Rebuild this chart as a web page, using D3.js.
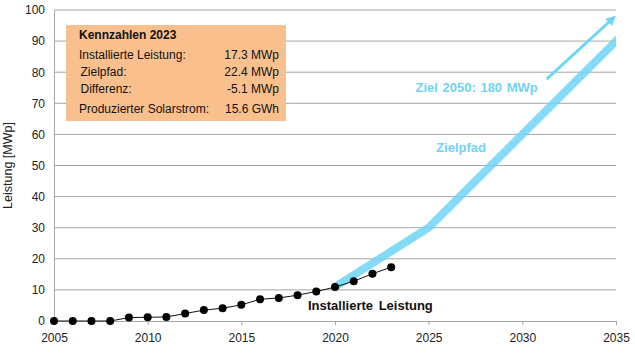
<!DOCTYPE html>
<html>
<head>
<meta charset="utf-8">
<script src="https://cdn.jsdelivr.net/npm/d3@7"></script>
<style>
  body { margin: 0; background: #fff; }
  svg { font-family: "Liberation Sans", Arial, sans-serif; }
</style>
</head>
<body>
<svg id="chart" width="635" height="353"></svg>
<script>
// installed capacity per year (MWp)
const years = [2005, 2006, 2007, 2008, 2009, 2010, 2011, 2012, 2013, 2014,
  2015, 2016, 2017, 2018, 2019, 2020, 2021, 2022, 2023]
const installed = [0, 0, 0, 0, 1.1, 1.2, 1.3, 2.4, 3.5, 4.1,
  5.2, 7.0, 7.4, 8.3, 9.5, 10.9, 12.8, 15.2, 17.3]

// target path
const targetYears = [2020, 2025, 2035, 2036]
const targetValues = [11, 30, 90, 96]

// arrow towards 2050 target
const arrowFrom = [2031.3, 77.8]
const arrowTo = [2035, 98.2]

const xTicks = [2005, 2010, 2015, 2020, 2025, 2030, 2035]
const yTicks = [0, 10, 20, 30, 40, 50, 60, 70, 80, 90, 100]

const infoTitle = 'Kennzahlen 2023'
const infoLabels = ['Installierte Leistung:', 'Zielpfad:', 'Differenz:', 'Produzierter Solarstrom:']
const infoValues = ['17.3 MWp', '22.4 MWp', '-5.1 MWp', '15.6 GWh']

const margin = {top: 10, right: 19, bottom: 32, left: 54}
const width = 635 - margin.left - margin.right
const height = 353 - margin.top - margin.bottom
const cyan = '#6fd5f7'

const svg = d3.select('#chart')
const g = svg.append('g')
  .attr('transform', 'translate(' + margin.left + ',' + margin.top + ')')

const x = d3.scaleLinear().domain([2005, 2035]).range([0, width])
const y = d3.scaleLinear().domain([0, 100]).range([height, 0])

g.append('defs').append('clipPath').attr('id', 'plot')
  .append('rect').attr('x', 0).attr('y', -10).attr('width', width).attr('height', height + 10)

// gridlines
g.selectAll('.grid').data(yTicks.slice(1)).join('line')
  .attr('x1', 0).attr('x2', width)
  .attr('y1', d => y(d)).attr('y2', d => y(d))
  .attr('stroke', '#a6a6a6').attr('stroke-width', 1)

// axes
const yAxis = g.append('g').call(d3.axisLeft(y).tickValues(yTicks).tickSize(0).tickPadding(9))
yAxis.select('.domain').attr('stroke', '#a6a6a6')
yAxis.selectAll('text').attr('font-size', 12).attr('fill', '#222')

const xAxis = g.append('g').attr('transform', 'translate(0,' + height + ')')
  .call(d3.axisBottom(x).tickValues(xTicks).tickFormat(d3.format('d')).tickSize(4).tickPadding(8))
xAxis.select('.domain').attr('stroke', '#a6a6a6')
xAxis.selectAll('line').attr('stroke', '#a6a6a6')
xAxis.selectAll('text').attr('font-size', 12).attr('fill', '#222')

g.append('text')
  .attr('transform', 'translate(' + (12 - margin.left) + ',' + y(50) + ') rotate(-90)')
  .attr('text-anchor', 'middle')
  .attr('font-size', 12.5).attr('fill', '#222')
  .text('Leistung [MWp]')

// target band
const line = d3.line().x(d => x(d[0])).y(d => y(d[1]))
g.append('path')
  .datum(d3.zip(targetYears, targetValues))
  .attr('clip-path', 'url(#plot)')
  .attr('d', line)
  .attr('fill', 'none')
  .attr('stroke', cyan).attr('stroke-opacity', 0.85)
  .attr('stroke-width', 8)

// arrow
const ax1 = x(arrowFrom[0]), ay1 = y(arrowFrom[1])
const ax2 = x(arrowTo[0]), ay2 = y(arrowTo[1])
const ang = Math.atan2(ay2 - ay1, ax2 - ax1)
const headLen = 10, headW = 5
g.append('line')
  .attr('x1', ax1).attr('y1', ay1)
  .attr('x2', ax2 - Math.cos(ang) * headLen * 0.8).attr('y2', ay2 - Math.sin(ang) * headLen * 0.8)
  .attr('stroke', cyan).attr('stroke-width', 3)
const bx = ax2 - Math.cos(ang) * headLen, by = ay2 - Math.sin(ang) * headLen
g.append('path')
  .attr('d', 'M' + ax2 + ',' + ay2 +
    'L' + (bx + Math.sin(ang) * headW) + ',' + (by - Math.cos(ang) * headW) +
    'L' + (bx - Math.sin(ang) * headW) + ',' + (by + Math.cos(ang) * headW) + 'Z')
  .attr('fill', cyan)

// installed line + markers
const installedData = d3.zip(years, installed)
g.append('path')
  .datum(installedData)
  .attr('d', line)
  .attr('fill', 'none')
  .attr('stroke', '#111').attr('stroke-width', 1)
g.selectAll('.dot').data(installedData).join('circle')
  .attr('cx', d => x(d[0])).attr('cy', d => y(d[1]))
  .attr('r', 4).attr('fill', '#000')

// labels
g.append('text')
  .attr('x', x(2020.0) - 27).attr('y', y(3.5))
  .attr('font-size', 13).attr('font-weight', 'bold').attr('fill', '#111')
  .attr('word-spacing', 2)
  .text('Installierte Leistung')
g.append('text')
  .attr('x', x(2025.4)).attr('y', y(54.2))
  .attr('font-size', 13).attr('font-weight', 'bold').attr('fill', '#6fd3f4')
  .text('Zielpfad')
g.append('text')
  .attr('x', x(2024.3)).attr('y', y(73.7))
  .attr('font-size', 13).attr('font-weight', 'bold').attr('fill', '#6fd3f4')
  .attr('word-spacing', 1)
  .text('Ziel 2050: 180 MWp')

// info box
const box = svg.append('g').attr('transform', 'translate(66,25)')
box.append('rect')
  .attr('width', 220).attr('height', 96)
  .attr('fill', '#f9c08e')
box.append('text')
  .attr('x', 13).attr('y', 13.5)
  .attr('font-size', 12).attr('font-weight', 'bold').attr('fill', '#111')
  .text(infoTitle)
const rowY = [33.5, 51, 67.5, 88]
const rowX = [13, 14.5, 14.5, 13]
box.selectAll('.lab').data(infoLabels).join('text')
  .attr('x', (d, i) => rowX[i]).attr('y', (d, i) => rowY[i])
  .attr('font-size', 12).attr('fill', '#111')
  .text(d => d)
box.selectAll('.val').data(infoValues).join('text')
  .attr('x', 213).attr('y', (d, i) => rowY[i])
  .attr('text-anchor', 'end')
  .attr('font-size', 12).attr('fill', '#111')
  .text(d => d)
</script>
</body>
</html>
